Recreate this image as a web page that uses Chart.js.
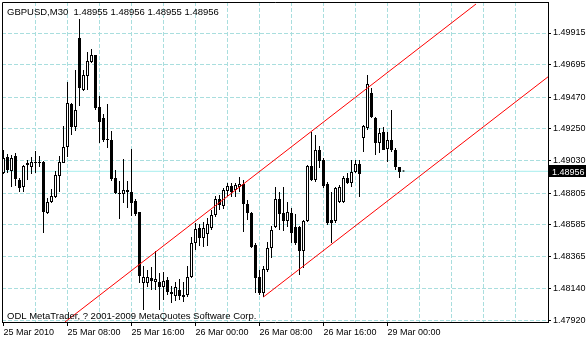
<!DOCTYPE html>
<html>
<head>
<meta charset="utf-8">
<script src="https://cdn.jsdelivr.net/npm/chart.js@4/dist/chart.umd.min.js"></script>
<style>
  html, body { margin: 0; padding: 0; background: #fff; }
</style>
</head>
<body>
<canvas id="chart" width="586" height="340"></canvas>
<script>
// GBPUSD M30, bar index 0 = 25 Mar 2010 00:00
const symbol = 'GBPUSD,M30';
const copyright = 'ODL MetaTrader, ? 2001-2009 MetaQuotes Software Corp.';

const opens = [
  1.48944, 1.49055, 1.48958, 1.49062, 1.48896, 1.48847, 1.49000, 1.48986, 1.49014, 1.49014,
  1.49021, 1.48667, 1.48743, 1.48778, 1.48924, 1.49014, 1.49125, 1.49423, 1.49263, 1.49881,
  1.49520, 1.49617, 1.49714, 1.49763, 1.49402, 1.49326, 1.49180, 1.49173, 1.48910, 1.48806,
  1.48799, 1.48827, 1.48813, 1.48750, 1.48674, 1.48182, 1.48182, 1.48216, 1.48189, 1.48189,
  1.48154, 1.48202, 1.48105, 1.48092, 1.48133, 1.48085, 1.48098, 1.48223, 1.48459, 1.48563,
  1.48494, 1.48521, 1.48563, 1.48653, 1.48764, 1.48716, 1.48820, 1.48854, 1.48827, 1.48847,
  1.48868, 1.48729, 1.48667, 1.48445, 1.48223, 1.48112, 1.48272, 1.48424, 1.48570, 1.48764,
  1.48667, 1.48612, 1.48667, 1.48570, 1.48570, 1.48404, 1.48612, 1.48993, 1.48896, 1.49104,
  1.49035, 1.48868, 1.48619, 1.48612, 1.48743, 1.48743, 1.48910, 1.48875, 1.48951, 1.49007,
  1.49187, 1.49256, 1.49499, 1.49326, 1.49152, 1.49229, 1.49111, 1.49173, 1.49104, 1.48986,
  1.48955
];
const highs = [
  1.49104, 1.49076, 1.49069, 1.49083, 1.48910, 1.49000, 1.49035, 1.49055, 1.49097, 1.49062,
  1.49028, 1.48771, 1.48833, 1.48958, 1.49062, 1.49270, 1.49575, 1.49430, 1.49659, 1.50012,
  1.49659, 1.49783, 1.49804, 1.49763, 1.49478, 1.49354, 1.49423, 1.49236, 1.48965, 1.48889,
  1.49042, 1.48889, 1.49111, 1.48764, 1.48674, 1.48300, 1.48272, 1.48293, 1.48404, 1.48251,
  1.48258, 1.48223, 1.48161, 1.48189, 1.48209, 1.48189, 1.48300, 1.48501, 1.48598, 1.48591,
  1.48605, 1.48632, 1.48688, 1.48785, 1.48792, 1.48840, 1.48875, 1.48875, 1.48875, 1.48917,
  1.48896, 1.48757, 1.48674, 1.48459, 1.48272, 1.48300, 1.48466, 1.48577, 1.48847, 1.48813,
  1.48847, 1.48743, 1.48702, 1.48660, 1.48577, 1.48619, 1.49000, 1.49229, 1.49208, 1.49132,
  1.49048, 1.48882, 1.48813, 1.48847, 1.48861, 1.48924, 1.48944, 1.49035, 1.49035, 1.49035,
  1.49277, 1.49624, 1.49534, 1.49333, 1.49256, 1.49263, 1.49229, 1.49381, 1.49118, 1.48986,
  1.48956
];
const lows = [
  1.48937, 1.48944, 1.48847, 1.48854, 1.48813, 1.48813, 1.48896, 1.48937, 1.48944, 1.48986,
  1.48528, 1.48660, 1.48736, 1.48771, 1.48813, 1.49014, 1.49055, 1.49208, 1.49236, 1.49409,
  1.49513, 1.49520, 1.49707, 1.49381, 1.49152, 1.49159, 1.49118, 1.48889, 1.48799, 1.48625,
  1.48736, 1.48702, 1.48646, 1.48646, 1.48182, 1.47994, 1.48154, 1.48133, 1.48133, 1.47994,
  1.48064, 1.48098, 1.48043, 1.48057, 1.48064, 1.48050, 1.48085, 1.48216, 1.48410, 1.48438,
  1.48431, 1.48438, 1.48549, 1.48639, 1.48688, 1.48695, 1.48785, 1.48778, 1.48778, 1.48813,
  1.48535, 1.48619, 1.48424, 1.48112, 1.48098, 1.48085, 1.48258, 1.48355, 1.48563, 1.48549,
  1.48542, 1.48570, 1.48459, 1.48445, 1.48237, 1.48286, 1.48605, 1.48889, 1.48882, 1.48979,
  1.48840, 1.48584, 1.48459, 1.48598, 1.48736, 1.48736, 1.48868, 1.48847, 1.48944, 1.48778,
  1.49090, 1.49243, 1.49326, 1.49069, 1.49083, 1.49104, 1.49021, 1.49090, 1.48965, 1.48910,
  1.48955
];
const closes = [
  1.49048, 1.48965, 1.49048, 1.48903, 1.48840, 1.48993, 1.49014, 1.49021, 1.49016, 1.49013,
  1.48674, 1.48743, 1.48785, 1.48931, 1.49021, 1.49125, 1.49430, 1.49263, 1.49381, 1.49534,
  1.49624, 1.49721, 1.49763, 1.49395, 1.49298, 1.49173, 1.49173, 1.48903, 1.48806, 1.48799,
  1.48827, 1.48813, 1.48736, 1.48660, 1.48230, 1.48223, 1.48223, 1.48196, 1.48209, 1.48154,
  1.48196, 1.48119, 1.48119, 1.48154, 1.48092, 1.48098, 1.48223, 1.48459, 1.48556, 1.48494,
  1.48563, 1.48591, 1.48653, 1.48764, 1.48723, 1.48827, 1.48854, 1.48813, 1.48861, 1.48868,
  1.48729, 1.48667, 1.48431, 1.48216, 1.48112, 1.48279, 1.48424, 1.48549, 1.48764, 1.48660,
  1.48612, 1.48674, 1.48528, 1.48459, 1.48404, 1.48612, 1.48993, 1.48896, 1.49104, 1.49028,
  1.48854, 1.48598, 1.48598, 1.48840, 1.48847, 1.48910, 1.48875, 1.48951, 1.49007, 1.48937,
  1.49270, 1.49562, 1.49333, 1.49152, 1.49222, 1.49104, 1.49173, 1.49104, 1.48986, 1.48951,
  1.48956
];

// time axis labels (bar index -> text), grid every 8 bars
const labelBars = [0, 16, 32, 48, 64, 80, 96];
const labelTexts = ['25 Mar 2010', '25 Mar 08:00', '25 Mar 16:00', '26 Mar 00:00', '26 Mar 08:00', '26 Mar 16:00', '29 Mar 00:00'];
const gridBars = [0, 8, 16, 24, 32, 40, 48, 56, 64, 72, 80, 88, 96, 104, 112, 120, 128];

// price axis
const priceTicks = [1.47920, 1.48140, 1.48365, 1.48585, 1.48805, 1.49030, 1.49250, 1.49470, 1.49695, 1.49915];
const priceMin = 1.47911;
const priceMax = 1.50130;
const bidPrice = closes[closes.length - 1];

// equidistant channel (bar index, price)
const channelUpperX = [15.375, 118.125];
const channelUpperY = [1.47911, 1.50116];
const channelLowerX = [65, 136.125];
const channelLowerY = [1.48085, 1.49611];

const xMin = -0.375;
const xMax = 136.125;
const gridColor = '#a9dede';

Chart.defaults.font.family = '"Liberation Sans", Arial, sans-serif';
Chart.defaults.color = '#000';

const noPad = s => { s.paddingLeft = 0; s.paddingRight = 0; s.paddingTop = 0; s.paddingBottom = 0; };

const overlay = {
  id: 'overlay',
  afterDraw(chart) {
    const { ctx, chartArea: a, scales: { y } } = chart;
    ctx.save();
    ctx.strokeStyle = '#000';
    ctx.lineWidth = 1;
    ctx.beginPath();
    ctx.moveTo(a.left + 0.5, a.bottom);
    ctx.lineTo(a.left + 0.5, a.top + 0.5);
    ctx.lineTo(a.right, a.top + 0.5);
    ctx.stroke();

    const n = closes.length - 1;
    const head = symbol + '  ' + [opens[n], highs[n], lows[n], closes[n]].map(v => v.toFixed(5)).join(' ');
    ctx.font = '9.5px "Liberation Sans", Arial, sans-serif';
    ctx.fillStyle = '#000';
    ctx.textBaseline = 'alphabetic';
    ctx.fillText(head, 7, 15);
    ctx.fillText(copyright, 7, 319);

    // bid price box on the price axis
    const py = Math.round(y.getPixelForValue(bidPrice));
    ctx.fillRect(a.right + 1, py - 6, 38, 12);
    ctx.fillStyle = '#fff';
    ctx.font = '9px "Liberation Sans", Arial, sans-serif';
    ctx.fillText(bidPrice.toFixed(5), a.right + 4, py + 3.5);
    ctx.restore();
  }
};

new Chart(document.getElementById('chart'), {
  type: 'bar',
  data: {
    datasets: [
      {
        type: 'line',
        label: 'channel upper',
        order: 0,
        data: channelUpperX.map((x, i) => ({ x: x, y: channelUpperY[i] })),
        borderColor: '#ff0000',
        borderWidth: 1,
        pointRadius: 0
      },
      {
        type: 'line',
        label: 'channel lower',
        order: 0,
        data: channelLowerX.map((x, i) => ({ x: x, y: channelLowerY[i] })),
        borderColor: '#ff0000',
        borderWidth: 1,
        pointRadius: 0
      },
      {
        label: 'body',
        order: 1,
        data: opens.map((o, i) => ({ x: i, y: [o, closes[i]] })),
        backgroundColor: opens.map((o, i) => closes[i] >= o ? '#ffffff' : '#000000'),
        borderColor: '#000',
        borderWidth: 1,
        borderSkipped: false,
        barThickness: 3,
        minBarLength: 1,
        inflateAmount: 0,
        grouped: false
      },
      {
        label: 'wick',
        order: 2,
        data: lows.map((l, i) => ({ x: i, y: [l, highs[i]] })),
        backgroundColor: '#000',
        borderWidth: 0,
        barThickness: 1,
        minBarLength: 1,
        inflateAmount: 0,
        grouped: false
      },
      {
        type: 'line',
        label: 'bid',
        order: 3,
        data: [{ x: xMin, y: bidPrice }, { x: xMax, y: bidPrice }],
        borderColor: '#a6eeee',
        borderWidth: 1,
        pointRadius: 0
      }
    ]
  },
  options: {
    responsive: false,
    animation: false,
    devicePixelRatio: 1,
    layout: { padding: { left: 2, top: 2, right: 0, bottom: 0 } },
    plugins: { legend: { display: false }, tooltip: { enabled: false } },
    scales: {
      x: {
        type: 'linear',
        position: 'bottom',
        offset: false,
        min: xMin,
        max: xMax,
        afterBuildTicks: s => { s.ticks = gridBars.map(v => ({ value: v })); },
        afterFit: s => { s.height = 18; noPad(s); },
        ticks: {
          autoSkip: false,
          maxRotation: 0,
          align: 'start',
          padding: 1,
          font: { size: 9 },
          callback: v => {
            const k = labelBars.indexOf(v);
            return k >= 0 ? labelTexts[k] : '';
          }
        },
        grid: {
          offset: false,
          color: c => (c.tick && c.tick.value === 0) ? 'rgba(0,0,0,0)' : gridColor,
          tickLength: 4,
          tickColor: c => (c.tick && labelBars.includes(c.tick.value)) ? '#000' : 'rgba(0,0,0,0)'
        },
        border: { color: '#000', width: 1, dash: [4, 2] }
      },
      y: {
        type: 'linear',
        position: 'right',
        min: priceMin,
        max: priceMax,
        afterBuildTicks: s => { s.ticks = priceTicks.map(v => ({ value: v })); },
        afterFit: s => { s.width = 38; noPad(s); },
        ticks: {
          padding: 2,
          font: { size: 9 },
          callback: v => v.toFixed(5)
        },
        grid: {
          color: gridColor,
          tickLength: 3,
          tickColor: '#000'
        },
        border: { color: '#000', width: 1, dash: [4, 2] }
      }
    }
  },
  plugins: [overlay]
});
</script>
</body>
</html>
